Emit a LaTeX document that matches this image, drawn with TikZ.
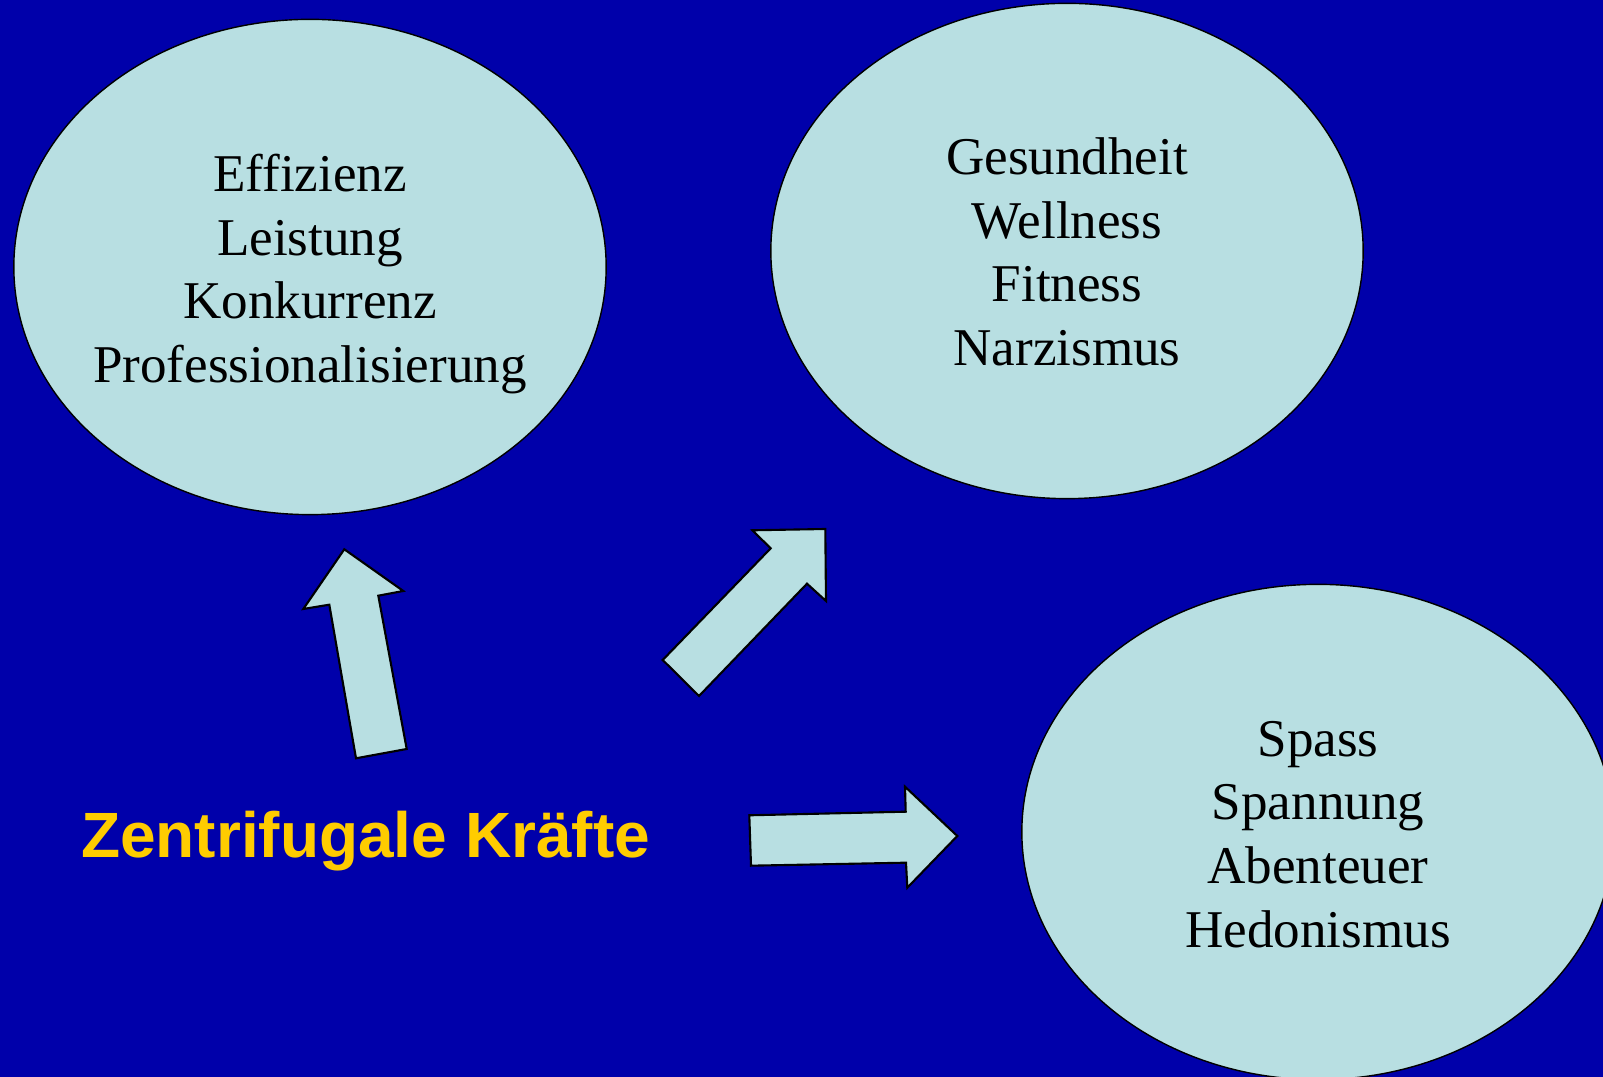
\documentclass[tikz,border=0pt]{standalone}
\usepackage{fontspec}
\setmainfont{Liberation Serif}
\newfontfamily\headfont{Liberation Sans}
\usetikzlibrary{shapes.geometric}
\definecolor{bgblue}{RGB}{0,0,170}
\definecolor{pale}{RGB}{184,223,226}
\definecolor{gold}{RGB}{255,204,0}
\tikzset{
  bubble/.style={ellipse, draw=black, line width=0.4pt, fill=pale, inner sep=0pt,
                 minimum width=5.92cm, minimum height=4.95cm},
  bubbletext/.style={align=center, text=black, inner sep=0pt,
                 font=\fontsize{15.1pt}{18.1pt}\selectfont},
  blockarrow/.style={draw=black, line width=0.6pt, fill=pale, line join=miter},
  heading/.style={text=gold, inner sep=0pt, font=\headfont\bfseries\fontsize{18.2pt}{22pt}\selectfont}
}
\begin{document}
\begin{tikzpicture}[x=0.01cm, y=-0.01cm]
\fill[bgblue] (0,0) rectangle (1603,1077);
\useasboundingbox (0,0) rectangle (1603,1077);

\node[bubble] (e1) at (310,267) {};
\node[bubbletext] (t1) at ([yshift=-0.07cm]e1.center) {Effizienz\\Leistung\\Konkurrenz\\Professionalisierung};

\node[bubble] (e2) at (1067,251) {};
\node[bubbletext] (t2) at ([yshift=-0.01cm]e2.center) {Gesundheit\\Wellness\\Fitness\\Narzismus};

\node[bubble] (e3) at (1318,832) {};
\node[bubbletext] (t3) at ([yshift=-0.025cm]e3.center) {Spass\\Spannung\\Abenteuer\\Hedonismus};

\node[heading] (z) at (365.5,841) {Zentrifugale Kräfte};

% arrow up to e1
\draw[blockarrow] (344.3,549.3) -- (403.3,591) -- (378.3,595.7) -- (406.7,749)
  -- (356,758.3) -- (329.3,604.7) -- (303.3,609) -- cycle;
% arrow to e2
\draw[blockarrow] (825.3,529) -- (826,601) -- (807,583.7) -- (699,696)
  -- (662.7,660) -- (770.7,548.3) -- (752.3,530.3) -- cycle;
% arrow to e3
\draw[blockarrow] (957.3,836) -- (907.3,887.7) -- (906,862.7) -- (751,865.7)
  -- (749.3,815.3) -- (905.7,811.7) -- (905,786.7) -- cycle;
\end{tikzpicture}
\end{document}
